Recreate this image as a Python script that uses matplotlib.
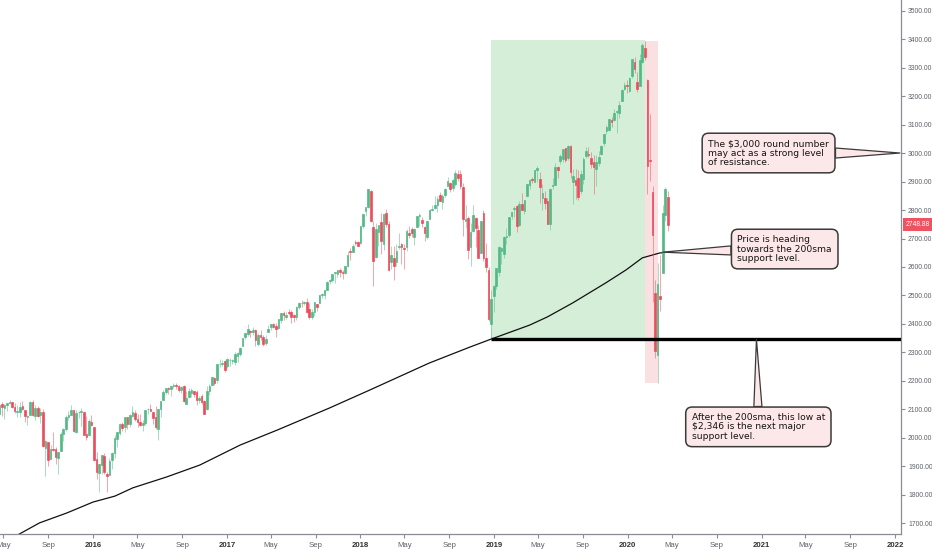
import numpy as np
import pandas as pd
import matplotlib
matplotlib.use('Agg')
import matplotlib.pyplot as plt
import matplotlib.dates as mdates
from matplotlib.patches import Rectangle
from matplotlib.transforms import blended_transform_factory

# weekly S&P 500 candles, first bar = week of 2015-04-13
first_week = '2015-04-13'

opens = [
    # 2015
    2102, 2083, 2119, 2105, 2115, 2122, 2125, 2108, 2092, 2092, 2112, 2098, 2073, 2080, 2126, 2078, 2104, 2080, 2090,
    1966, 1986, 1927, 1963, 1960, 1929, 1954, 2015, 2031, 2075, 2080, 2097, 2022, 2090, 2091, 2090, 2013, 2010, 2057,
    # 2016
    2038, 1926, 1878, 1906, 1936, 1873, 1871, 1924, 1947, 1996, 2019, 2048, 2037, 2073, 2050, 2078, 2089, 2068,
    2057, 2047, 2052, 2100, 2100, 2092, 2075, 2031, 2101, 2132, 2163, 2175, 2173, 2183, 2187, 2182, 2170, 2181,
    2120, 2143, 2158, 2164, 2160, 2132, 2148, 2129, 2100, 2165, 2186, 2212, 2202, 2258, 2259, 2270,
    # 2017
    2251, 2273, 2270, 2268, 2287, 2294, 2322, 2355, 2366, 2375, 2371, 2379, 2329, 2362, 2355, 2335, 2372, 2389,
    2399, 2393, 2387, 2415, 2437, 2425, 2442, 2443, 2431, 2424, 2458, 2473, 2475, 2478, 2454, 2425, 2441, 2470,
    2474, 2502, 2500, 2521, 2551, 2555, 2578, 2577, 2588, 2580, 2579, 2603, 2657, 2652, 2685, 2686,
    # 2018
    2683, 2743, 2798, 2809, 2867, 2741, 2636, 2722, 2757, 2681, 2791, 2752, 2619, 2633, 2617, 2670, 2680, 2668,
    2670, 2718, 2735, 2705, 2742, 2780, 2766, 2742, 2705, 2769, 2799, 2807, 2819, 2851, 2827, 2853, 2885, 2896,
    2876, 2891, 2926, 2926, 2882, 2763, 2773, 2669, 2727, 2773, 2730, 2649, 2790, 2630, 2591, 2400, 2499,
    # 2019
    2535, 2583, 2657, 2644, 2706, 2712, 2780, 2804, 2814, 2747, 2822, 2797, 2848, 2888, 2908, 2898, 2940, 2908,
    2841, 2841, 2830, 2751, 2886, 2889, 2951, 2971, 2980, 3017, 2981, 3024, 2898, 2907, 2913, 2866, 2909, 2988,
    2996, 2984, 2967, 2944, 2966, 2996, 3035, 3078, 3081, 3117, 3117, 3143, 3141, 3183, 3226, 3240,
    # 2020
    3218, 3271, 3321, 3248, 3236, 3318, 3369, 3258, 2974, 2863, 2509, 2291, 2499, 2578, 2782, 2845,
]

highs = [
    # 2015
    2111, 2120, 2126, 2120, 2123, 2134, 2126, 2121, 2115, 2127, 2129, 2098, 2082, 2129, 2132, 2114, 2113, 2105, 2102,
    1993, 1986, 1975, 2021, 1969, 1951, 2020, 2034, 2079, 2094, 2116, 2099, 2097, 2094, 2104, 2090, 2076, 2068, 2081,
    # 2016
    2038, 1950, 1908, 1940, 1947, 1881, 1930, 1952, 2009, 2022, 2052, 2056, 2075, 2074, 2083, 2111, 2099, 2084,
    2084, 2064, 2094, 2105, 2120, 2092, 2113, 2103, 2131, 2169, 2175, 2178, 2183, 2194, 2192, 2187, 2184, 2187,
    2164, 2175, 2175, 2165, 2169, 2148, 2154, 2133, 2182, 2189, 2214, 2213, 2260, 2278, 2273, 2273,
    # 2017
    2282, 2279, 2276, 2301, 2300, 2319, 2352, 2368, 2401, 2378, 2390, 2382, 2370, 2378, 2363, 2361, 2395, 2399,
    2404, 2405, 2418, 2440, 2446, 2441, 2453, 2450, 2434, 2463, 2478, 2484, 2480, 2490, 2474, 2454, 2477, 2471,
    2500, 2508, 2520, 2552, 2557, 2576, 2582, 2588, 2598, 2590, 2605, 2657, 2665, 2680, 2695, 2692,
    # 2018
    2743, 2787, 2808, 2873, 2870, 2763, 2755, 2747, 2789, 2787, 2802, 2761, 2675, 2672, 2680, 2718, 2683, 2682,
    2732, 2743, 2742, 2736, 2779, 2790, 2775, 2745, 2762, 2804, 2816, 2848, 2849, 2864, 2855, 2877, 2916, 2900,
    2908, 2941, 2940, 2940, 2894, 2817, 2778, 2756, 2816, 2775, 2747, 2760, 2800, 2685, 2601, 2520, 2538,
    # 2019
    2598, 2675, 2671, 2709, 2738, 2775, 2794, 2813, 2816, 2830, 2861, 2836, 2893, 2910, 2916, 2940, 2955, 2932,
    2892, 2868, 2841, 2876, 2911, 2964, 2955, 2996, 3014, 3018, 3028, 3028, 2944, 2943, 2940, 2940, 2986, 3021,
    3022, 3002, 2993, 2993, 3008, 3027, 3067, 3098, 3121, 3127, 3154, 3150, 3183, 3226, 3248, 3258,
    # 2020
    3268, 3329, 3338, 3285, 3348, 3385, 3393, 3260, 3137, 2883, 2553, 2615, 2641, 2819, 2880, 2868,
]

lows = [
    # 2015
    2081, 2088, 2077, 2068, 2093, 2120, 2104, 2086, 2072, 2072, 2098, 2056, 2044, 2080, 2077, 2063, 2073, 2052, 1970,
    1867, 1903, 1927, 1953, 1908, 1872, 1954, 1990, 2023, 2062, 2079, 2022, 2019, 2070, 2043, 2012, 1993, 2006, 2043,
    # 2016
    1918, 1857, 1812, 1872, 1872, 1810, 1871, 1891, 1931, 1969, 2012, 2023, 2022, 2033, 2040, 2075, 2059, 2039,
    2043, 2025, 2047, 2085, 2093, 2050, 2033, 1992, 2074, 2132, 2154, 2156, 2148, 2177, 2172, 2160, 2157, 2127,
    2119, 2139, 2145, 2144, 2114, 2124, 2119, 2084, 2097, 2151, 2186, 2187, 2192, 2249, 2253, 2233,
    # 2017
    2245, 2254, 2258, 2257, 2267, 2286, 2322, 2348, 2357, 2354, 2360, 2322, 2322, 2344, 2322, 2327, 2372, 2380,
    2387, 2353, 2382, 2404, 2415, 2419, 2431, 2405, 2407, 2415, 2452, 2459, 2466, 2437, 2417, 2417, 2429, 2447,
    2474, 2492, 2489, 2521, 2541, 2547, 2544, 2566, 2566, 2557, 2576, 2601, 2624, 2651, 2676, 2673,
    # 2018
    2682, 2737, 2778, 2808, 2759, 2533, 2630, 2675, 2647, 2658, 2742, 2585, 2594, 2553, 2605, 2664, 2612, 2594,
    2655, 2701, 2707, 2676, 2741, 2743, 2742, 2692, 2698, 2769, 2795, 2804, 2792, 2832, 2802, 2847, 2884, 2864,
    2868, 2886, 2903, 2875, 2710, 2736, 2628, 2603, 2722, 2671, 2631, 2649, 2621, 2583, 2409, 2346, 2443,
    # 2019
    2524, 2569, 2612, 2631, 2681, 2704, 2768, 2775, 2722, 2745, 2800, 2785, 2848, 2873, 2896, 2898, 2900, 2825,
    2801, 2805, 2750, 2729, 2874, 2887, 2912, 2963, 2967, 2970, 2976, 2914, 2822, 2840, 2834, 2856, 2891, 2981,
    2985, 2946, 2856, 2884, 2953, 2992, 3023, 3066, 3077, 3091, 3114, 3070, 3124, 3183, 3222, 3212,
    # 2020
    3214, 3263, 3280, 3214, 3234, 3315, 3328, 2855, 2902, 2478, 2281, 2192, 2447, 2578, 2761, 2727,
]

closes = [
    # 2015
    2081, 2117, 2108, 2116, 2123, 2126, 2107, 2093, 2094, 2110, 2101, 2077, 2077, 2126, 2079, 2104, 2078, 2092, 1971,
    1989, 1921, 1961, 1958, 1932, 1951, 2014, 2033, 2075, 2079, 2099, 2023, 2089, 2090, 2092, 2012, 2005, 2061, 2044,
    # 2016
    1922, 1880, 1907, 1940, 1880, 1865, 1918, 1948, 1999, 2022, 2050, 2035, 2073, 2048, 2081, 2091, 2065, 2057,
    2047, 2053, 2099, 2100, 2096, 2071, 2037, 2103, 2130, 2162, 2175, 2173, 2183, 2184, 2184, 2169, 2180, 2128,
    2139, 2165, 2168, 2153, 2133, 2141, 2126, 2085, 2164, 2182, 2213, 2192, 2260, 2258, 2263, 2239,
    # 2017
    2277, 2275, 2271, 2295, 2297, 2316, 2351, 2367, 2383, 2373, 2378, 2344, 2363, 2356, 2329, 2348, 2384, 2399,
    2391, 2382, 2416, 2439, 2432, 2433, 2438, 2423, 2425, 2459, 2473, 2472, 2477, 2441, 2426, 2443, 2477, 2461,
    2500, 2502, 2519, 2549, 2553, 2575, 2581, 2588, 2582, 2579, 2602, 2642, 2652, 2675, 2684, 2674,
    # 2018
    2743, 2786, 2810, 2873, 2762, 2620, 2732, 2747, 2691, 2786, 2752, 2588, 2641, 2604, 2656, 2670, 2670, 2663,
    2728, 2713, 2721, 2735, 2779, 2780, 2755, 2718, 2760, 2801, 2802, 2819, 2840, 2833, 2850, 2875, 2902, 2872,
    2905, 2930, 2914, 2886, 2767, 2768, 2658, 2723, 2781, 2736, 2633, 2760, 2633, 2600, 2417, 2486, 2532,
    # 2019
    2596, 2671, 2665, 2707, 2708, 2776, 2793, 2804, 2743, 2822, 2800, 2834, 2893, 2907, 2905, 2940, 2946, 2881,
    2860, 2826, 2752, 2873, 2887, 2950, 2942, 2990, 3014, 2977, 3026, 2932, 2919, 2889, 2847, 2926, 2979, 3007,
    2992, 2962, 2952, 2970, 2986, 3023, 3067, 3093, 3120, 3110, 3141, 3146, 3169, 3221, 3240, 3235,
    # 2020
    3265, 3330, 3295, 3226, 3328, 3380, 3338, 2954, 2972, 2711, 2305, 2541, 2489, 2790, 2875, 2748.88,
]

# 200-week simple moving average
sma_dates = ['2015-04-13', '2015-06-14', '2015-08-08', '2015-10-22', '2016-01-01', '2016-03-01',
             '2016-04-19', '2016-07-20', '2016-10-19', '2017-02-06', '2017-05-19', '2017-10-08',
             '2018-01-26', '2018-07-08', '2018-10-27', '2018-12-24', '2019-04-08', '2019-05-27',
             '2019-08-04', '2019-11-02', '2019-12-28', '2020-02-10', '2020-03-28', '2020-04-20']
sma_values = [1625, 1663, 1702, 1737, 1775, 1796, 1825, 1863, 1905, 1975, 2028, 2105,
              2168, 2263, 2319, 2347, 2396, 2425, 2474, 2544, 2590, 2632, 2649, 2652]

support_low = 2346
rally_high = 3397
crash_high = 3393
crash_low = 2192
resistance = 3000

note_resistance = 'The $3,000 round number\nmay act as a strong level\nof resistance.'
note_sma = 'Price is heading\ntowards the 200sma\nsupport level.'
note_support = 'After the 200sma, this low at\n$2,346 is the next major\nsupport level.'

UP = '#53b987'
DOWN = '#eb4d5c'
BOX_FC = '#fde8e9'
BOX_EC = '#3a3a3a'
AXIS_FONT = 'Liberation Sans'

d = lambda s: mdates.date2num(pd.Timestamp(s).to_pydatetime())

o = np.array(opens, dtype=float)
h = np.array(highs, dtype=float)
l = np.array(lows, dtype=float)
c = np.array(closes, dtype=float)
weeks = mdates.date2num(pd.date_range(first_week, periods=len(c), freq='7D').to_pydatetime())
colors = np.where(c >= o, UP, DOWN)

fig = plt.figure(figsize=(9.32, 5.5), dpi=100)
ax = fig.add_axes([0, 16 / 550, 901 / 932, 534 / 550])

x_left, x_right = d('2015-04-22'), d('2022-01-17')
ax.set_xlim(x_left, x_right)
ax.set_ylim(1663, 3537)

# highlighted zones
ax.add_patch(Rectangle((d('2018-12-24'), support_low), d('2020-02-17') - d('2018-12-24'),
                       rally_high - support_low, fc='#d5eed7', ec='none', zorder=1))
ax.add_patch(Rectangle((d('2020-02-17'), crash_low), d('2020-03-23') - d('2020-02-17'),
                       crash_high - crash_low, fc='#fbe0e2', ec='none', zorder=1))

# 200sma
ax.plot([d(s) for s in sma_dates], sma_values, color='#111111', lw=0.9, zorder=2)

# candles
ax.vlines(weeks, l, h, colors=colors, lw=0.5, alpha=0.7, zorder=3)
body = np.maximum(np.abs(c - o), 2.0)
ax.bar(weeks, body, bottom=np.minimum(o, c), width=4.5, color=colors, edgecolor=colors,
       linewidth=0.5, zorder=3)

# support line
ax.hlines(support_low, d('2018-12-24'), x_right, color='black', lw=2.4, zorder=4)

# callouts
def callout(text, xy, xytext, tail):
    ax.annotate(text, xy=xy, xytext=xytext, xycoords='data', textcoords='data',
                ha='left', va='center', fontsize=6.6, linespacing=1.05, color='#131313',
                bbox=dict(boxstyle='round,pad=0.65,rounding_size=0.7', fc=BOX_FC, ec=BOX_EC, lw=1.1),
                arrowprops=dict(arrowstyle='wedge,tail_width=%.2f' % tail, fc=BOX_FC, ec=BOX_EC,
                                lw=0.9, mutation_scale=10, shrinkA=0, shrinkB=0),
                annotation_clip=False, zorder=6)

callout(note_resistance, (d('2022-01-14'), resistance), (d('2020-08-08'), 3000), 0.72)
callout(note_sma, (d('2020-04-06'), 2652), (d('2020-10-27'), 2663), 0.65)
callout(note_support, (d('2020-12-18'), support_low), (d('2020-06-24'), 2039), 0.58)

# axes styling
for side in ['top', 'left']:
    ax.spines[side].set_visible(False)
for side in ['right', 'bottom']:
    ax.spines[side].set_color('#8a8d94')
    ax.spines[side].set_linewidth(0.9)

ax.yaxis.tick_right()
yt = np.arange(1700, 3501, 100)
ax.set_yticks(yt)
ax.set_yticklabels(['%.2f' % v for v in yt], fontfamily=AXIS_FONT)
ax.tick_params(axis='y', labelsize=4.9, labelcolor='#5d606b', color='#8a8d94', length=3, pad=2)

months = pd.date_range('2015-05-01', '2022-01-01', freq='MS')
months = [m for m in months if m.month in (1, 5, 9)]
ax.set_xticks([d(m) for m in months])
ax.set_xticklabels([str(m.year) if m.month == 1 else m.strftime('%b') for m in months],
                   fontfamily=AXIS_FONT)
ax.tick_params(axis='x', labelsize=5.6, labelcolor='#5d606b', color='#8a8d94', length=3, pad=3)
for m, lab in zip(months, ax.get_xticklabels()):
    if m.month == 1:
        lab.set_fontweight('bold')
        lab.set_color('#333333')

# last price tag
trans = blended_transform_factory(ax.transAxes, ax.transData)
ax.text(1.005, closes[-1], '%.2f' % closes[-1], transform=trans, ha='left', va='center',
        fontsize=4.9, fontfamily=AXIS_FONT, color='white', zorder=7, clip_on=False,
        bbox=dict(boxstyle='square,pad=0.4', fc='#ef5361', ec='none'))

fig.savefig('out.png', dpi=100)
